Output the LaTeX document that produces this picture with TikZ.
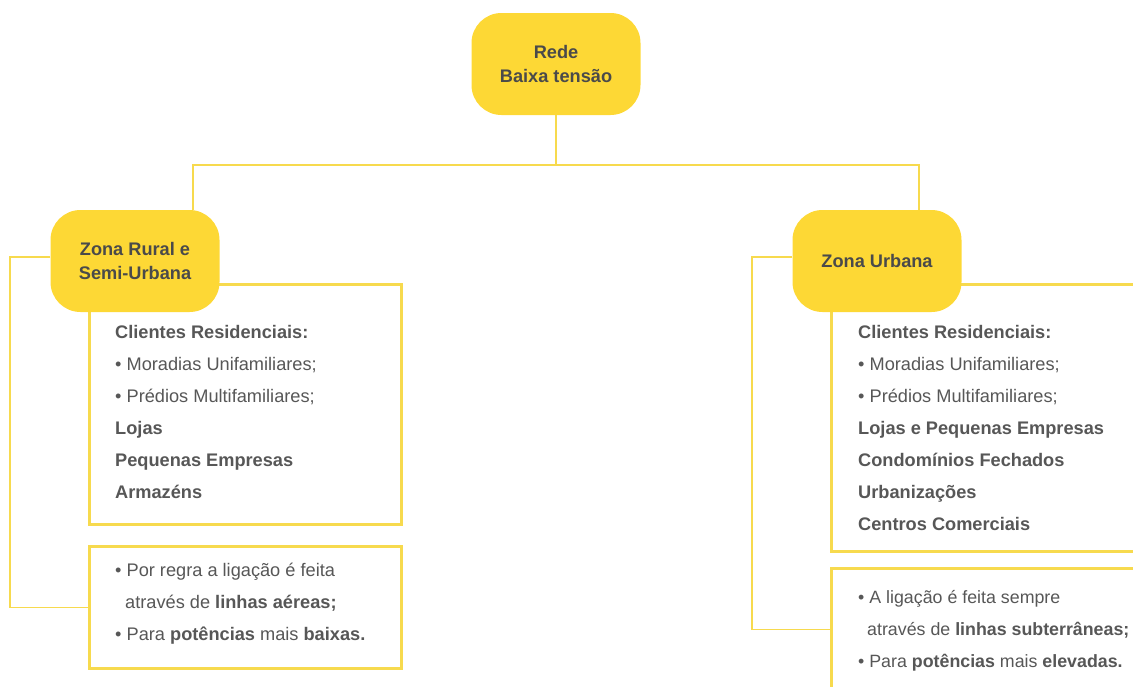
\documentclass[tikz,border=0pt]{standalone}
\usepackage{fontspec}
\setmainfont{Liberation Sans}
\usetikzlibrary{positioning}
\definecolor{zonefill}{HTML}{FDD835}
\definecolor{zoneline}{HTML}{F7DA4E}
\definecolor{txtgray}{HTML}{575757}
\definecolor{hdgray}{HTML}{4A4A4A}
\begin{document}
\begin{tikzpicture}[
  x=1pt, y=-1pt,
  every node/.style={font=\fontsize{18.2}{32}\selectfont, text=txtgray},
  % Node styles
  zone/.style    = {rectangle, rounded corners=30pt, fill=zonefill,
                    minimum width=169pt, minimum height=102pt,
                    align=center, text=hdgray,
                    font=\bfseries\fontsize{18.2}{24}\selectfont},
  infobox/.style = {rectangle, draw=zoneline, line width=2.6pt, fill=white,
                    anchor=north west, inner sep=0pt},
  infotext/.style= {anchor=north west, align=left, inner sep=0pt},
  % Connector style
  link/.style    = {draw=zoneline, line width=1.6pt}
]
\clip (0,0) rectangle (1133,686);

% =========================== INFO BOXES ===========================
\node[infobox, minimum width=312pt, minimum height=240pt] (ruralA)  at (88,283)  {};
\node[infobox, minimum width=312pt, minimum height=122pt] (ruralB)  at (88,545)  {};
\node[infobox, minimum width=320pt, minimum height=267pt] (urbanaA) at (830,283) {};
\node[infobox, minimum width=320pt, minimum height=122pt] (urbanaB) at (830,567) {};

% =========================== TREE ===========================
\node[zone] (rede)   at (556,64)  {Rede\\Baixa tensão};
\node[zone] (rural)  at (135,261) {Zona Rural e\\Semi-Urbana};
\node[zone] (urbana) at (877,261) {Zona Urbana};
\coordinate (split) at (556,165);

\draw[link] (rede.south) -- (split);
\draw[link] ([xshift=58pt]rural.north) |- (split) -| ([xshift=42pt]urbana.north);

% side links to the lower boxes
\draw[link] ([yshift=4pt]rural.west) -| ([xshift=-78pt]ruralB.west) -- (ruralB.west);
\draw[link] ([yshift=4pt]urbana.west) -| ([xshift=-78pt]urbanaB.west) -- (urbanaB.west);

% =========================== TEXTS ===========================
\node[infotext] (ruralAtxt) at (115,325)
  {\textbf{Clientes Residenciais:}\\
   • Moradias Unifamiliares;\\
   • Prédios Multifamiliares;\\
   \textbf{Lojas}\\
   \textbf{Pequenas Empresas}\\
   \textbf{Armazéns}};
\node[infotext] (ruralBtxt) at (115,563)
  {• Por regra a ligação é feita\\
   \hspace*{10pt}através de \textbf{linhas aéreas;}\\
   • Para \textbf{potências} mais \textbf{baixas.}};
\node[infotext] (urbanaAtxt) at (858,325)
  {\textbf{Clientes Residenciais:}\\
   • Moradias Unifamiliares;\\
   • Prédios Multifamiliares;\\
   \textbf{Lojas e Pequenas Empresas}\\
   \textbf{Condomínios Fechados}\\
   \textbf{Urbanizações}\\
   \textbf{Centros Comerciais}};
\node[infotext, font=\fontsize{17.8}{32}\selectfont] (urbanaBtxt) at (858,590)
  {• A ligação é feita sempre\\
   \hspace*{9pt}através de \textbf{linhas subterrâneas;}\\
   • Para \textbf{potências} mais \textbf{elevadas.}};

\end{tikzpicture}
\end{document}
